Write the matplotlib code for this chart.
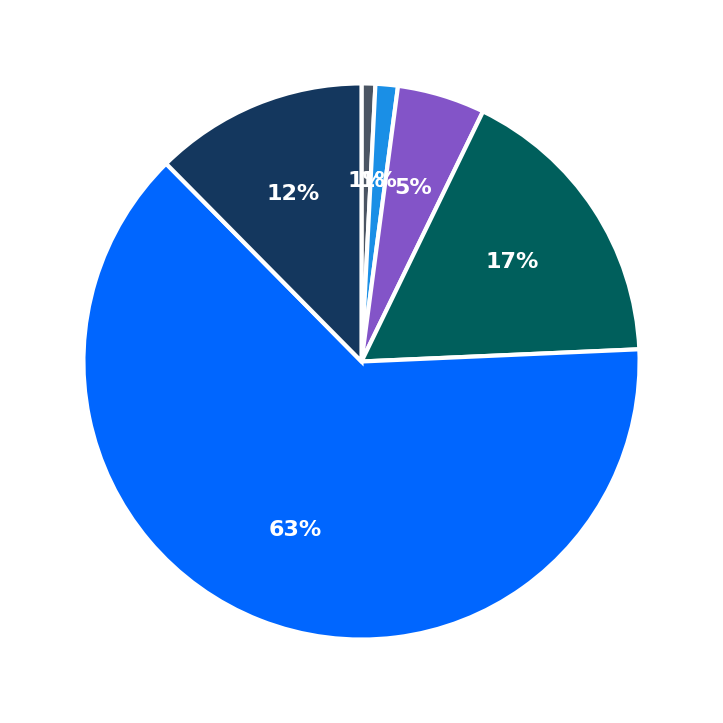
import matplotlib.pyplot as plt

labels = ['A', 'B', 'C', 'D', 'E', 'F']
values = [0.8, 1.3, 5.1, 17.1, 63.3, 12.4]
colors = ['#4b5563', '#1a8fe6', '#8354c8', '#005f5c', '#0066ff', '#14375e']

fig = plt.figure(figsize=(7.23, 7.23), dpi=100)
ax = fig.add_axes([0, 0, 1, 1])

wedges, texts, autotexts = ax.pie(
    values, colors=colors, startangle=90, counterclock=False,
    autopct='%.0f%%', pctdistance=0.65,
    wedgeprops=dict(edgecolor='white', linewidth=3),
    textprops=dict(color='white', fontsize=16, fontweight='bold'),
)

ax.set_xlim(-1.30, 1.30)
ax.set_ylim(-1.30, 1.30)
ax.set_aspect('equal')
ax.axis('off')

fig.savefig('out.png', dpi=100)
